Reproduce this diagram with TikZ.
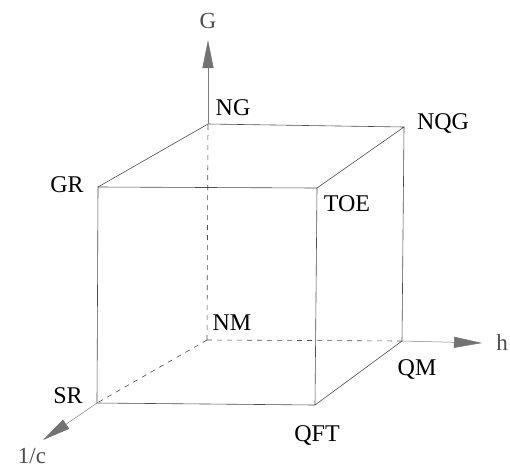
\documentclass[tikz,border=0pt]{standalone}
\usepackage{fontspec}
\setmainfont{Liberation Serif}
\usetikzlibrary{arrows.meta}
\definecolor{edgecol}{gray}{0.3}
\definecolor{axiscol}{gray}{0.5}
\definecolor{headcol}{gray}{0.45}
\begin{document}
\begin{tikzpicture}[x=1pt,y=-1pt,
  edge/.style={draw=edgecol,line width=0.6pt},
  hidden/.style={draw=edgecol,line width=0.6pt,dash pattern=on 5pt off 5pt},
  axisline/.style={draw=axiscol,line width=0.5pt,
    -{Triangle[length=28pt,width=11pt,fill=headcol,color=headcol]}},
  lab/.style={inner sep=0pt,text height=16pt,text depth=0pt,
    font=\fontsize{24}{28}\selectfont,text=black},
  axislab/.style={inner sep=0pt,text height=16pt,text depth=0pt,
    font=\fontsize{23}{28}\selectfont,text=black!70}]
\useasboundingbox (0,0) rectangle (510,469);
% cube corners
\coordinate (NM) at (207,340);
\coordinate (QM) at (402,341);
\coordinate (NQG) at (404,127);
\coordinate (NG) at (208,124);
\coordinate (SR) at (97,403);
\coordinate (QFT) at (315,405);
\coordinate (TOE) at (317,188);
\coordinate (GR) at (98,187);
% axis ends
\coordinate (Gtip) at (208,40);
\coordinate (htip) at (482,343);
\coordinate (ctip) at (43,440);
% hidden edges
\draw[hidden] (NM) -- (NG);
\draw[hidden] (NM) -- (QM);
\draw[hidden] (NM) -- (SR);
% visible edges
\draw[edge] (GR) -- (TOE) -- (QFT) -- (SR) -- cycle;
\draw[edge] (GR) -- (NG) -- (NQG) -- (TOE);
\draw[edge] (NQG) -- (QM) -- (QFT);
% axes
\draw[axisline] (NG) -- (Gtip);
\draw[axisline] (QM) -- (htip);
\draw[axisline] (SR) -- (ctip);
% labels
\node[axislab] (Glab) at (208,20) {G};
\node[axislab] (hlab) at (502,342) {h};
\node[axislab] (clab) at (32,455) {1/c};
\node[lab] (NGlab) at (233,107) {NG};
\node[lab] (NQGlab) at (443,121) {NQG};
\node[lab] (GRlab) at (67,184) {GR};
\node[lab] (TOElab) at (347,203) {TOE};
\node[lab] (NMlab) at (232,322) {NM};
\node[lab] (QMlab) at (417,367) {QM};
\node[lab] (SRlab) at (68,395) {SR};
\node[lab] (QFTlab) at (317,433) {QFT};
\end{tikzpicture}
\end{document}
